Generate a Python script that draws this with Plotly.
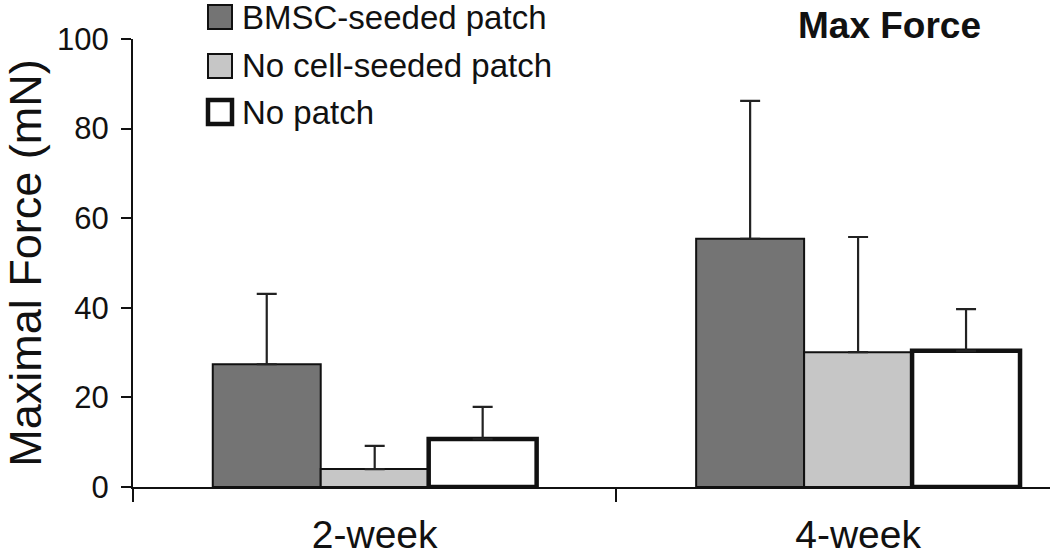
import plotly.graph_objects as go

# ---- data ----
groups = ["2-week", "4-week"]
series_names = ["BMSC-seeded patch", "No cell-seeded patch", "No patch"]
bmsc_mean = [27.4, 55.4]
bmsc_err = [15.7, 30.8]
nocell_mean = [4.0, 30.1]
nocell_err = [5.2, 25.7]
nopatch_mean = [10.7, 30.4]
nopatch_err = [7.2, 9.3]
y_ticks = [0, 20, 40, 60, 80, 100]
chart_title = "Max Force"
y_title = "Maximal Force (mN)"

means = [bmsc_mean, nocell_mean, nopatch_mean]
errs = [bmsc_err, nocell_err, nopatch_err]
fills = ["#747474", "#c6c6c6", "#ffffff"]
line_widths = [2, 2, 4.5]

W, H = 1050, 558
ML, MR, MT, MB = 133, 0, 39, 71
PW, PH = W - ML - MR, H - MT - MB

def px_x(x):  # screen pixel -> paper
    return (x - ML) / PW

def px_y(y):
    return (H - MB - y) / PH

FONT = "Liberation Sans, Arial, sans-serif"

fig = go.Figure()
for name, m, e, fc, lw in zip(series_names, means, errs, fills, line_widths):
    fig.add_trace(go.Bar(
        x=groups, y=m, name=name,
        marker=dict(color=fc, line=dict(color="#111111", width=lw)),
        error_y=dict(type="data", array=e, arrayminus=[0] * len(e), symmetric=False,
                     color="#222222", thickness=2.2, width=10),
        showlegend=False,
    ))

# manual legend (large swatches like the reference)
shapes = []
annotations = []
row_centers = [17, 66, 112]
for name, fc, lw, cy in zip(series_names, fills, line_widths, row_centers):
    half = 12
    shapes.append(dict(type="rect", xref="paper", yref="paper",
                       x0=px_x(208), x1=px_x(232), y0=px_y(cy + half), y1=px_y(cy - half),
                       fillcolor=fc, line=dict(color="#111111", width=lw if lw > 3 else 2)))
    annotations.append(dict(xref="paper", yref="paper", x=px_x(240), y=px_y(cy),
                            xanchor="left", yanchor="middle", showarrow=False,
                            text=name, font=dict(family=FONT, size=33, color="#111111")))

annotations.append(dict(xref="paper", yref="paper", x=px_x(889), y=px_y(25),
                        xanchor="center", yanchor="middle", showarrow=False,
                        text="<b>" + chart_title + "</b>",
                        font=dict(family=FONT, size=37, color="#111111")))

fig.update_layout(
    width=W, height=H,
    margin=dict(l=ML, r=MR, t=MT, b=MB, pad=0, autoexpand=False),
    paper_bgcolor="white", plot_bgcolor="white",
    barmode="group", bargap=0.33, bargroupgap=0,
    font=dict(family=FONT, color="#111111"),
    shapes=shapes, annotations=annotations,
)
fig.update_xaxes(
    type="category", range=[-0.5, 1.397], automargin=False,
    showline=True, linecolor="#111111", linewidth=2,
    ticks="outside", tickson="boundaries", ticklen=13, tickwidth=2, tickcolor="#111111",
    tickfont=dict(family=FONT, size=39, color="#111111"), ticklabelstandoff=12,
    showgrid=False, zeroline=False,
)
fig.update_yaxes(
    range=[0, 100], tickvals=y_ticks, automargin=False,
    showline=True, linecolor="#111111", linewidth=2,
    ticks="outside", ticklen=10, tickwidth=2, tickcolor="#111111",
    tickfont=dict(family=FONT, size=31, color="#111111"), ticklabelstandoff=6,
    showgrid=False, zeroline=False,
    title=dict(text=y_title, font=dict(family=FONT, size=45, color="#111111"), standoff=8),
)

fig.write_html("out.html", config={"displayModeBar": False},
               post_script="document.body.style.margin='0';document.body.style.overflow='hidden';")
